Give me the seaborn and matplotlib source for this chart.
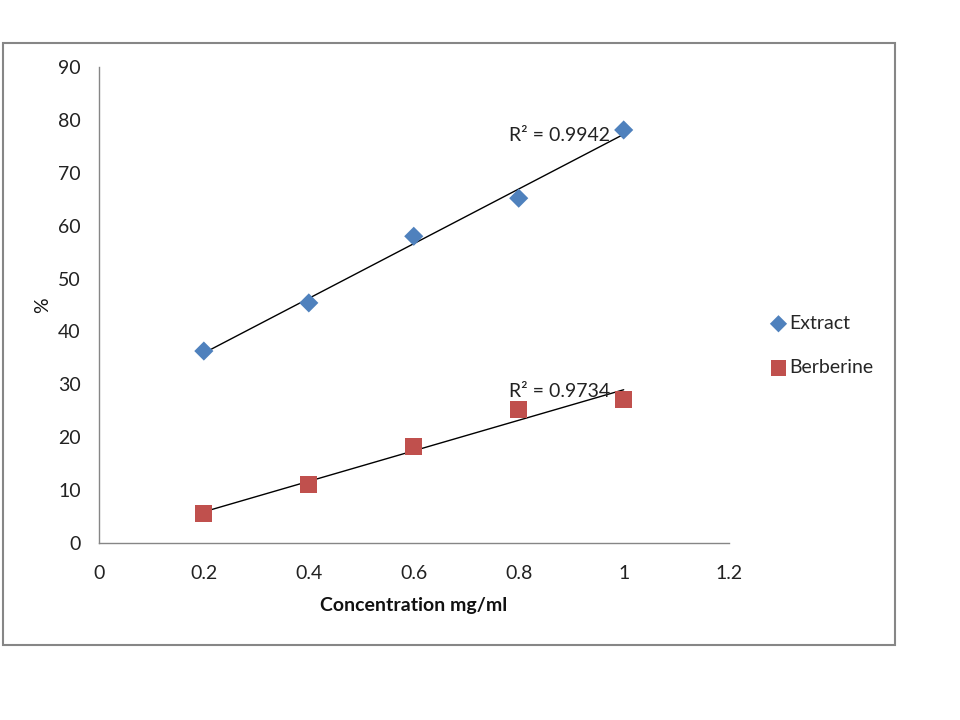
import matplotlib
matplotlib.use("Agg")
import matplotlib.pyplot as plt
import numpy as np
import pandas as pd
import seaborn as sns
from matplotlib.patches import Rectangle

# values
conc = [0.2, 0.4, 0.6, 0.8, 1.0]
extract = [36.3, 45.4, 58.0, 65.2, 78.1]
berberine = [5.5, 11.0, 18.2, 25.3, 27.2]
series_names = ['Extract', 'Berberine']
r2_labels = ['R\u00b2 = 0.9942', 'R\u00b2 = 0.9734']
x_ticks = [0, 0.2, 0.4, 0.6, 0.8, 1, 1.2]
x_tick_labels = ['0', '0.2', '0.4', '0.6', '0.8', '1', '1.2']
y_ticks = list(range(0, 100, 10))

df = pd.DataFrame({
    'conc': conc * 2,
    'value': extract + berberine,
    'series': [series_names[0]] * len(conc) + [series_names[1]] * len(conc),
})

sns.set_theme(style='white')
plt.rcParams['font.family'] = ['Lato', 'DejaVu Sans']

fig = plt.figure(figsize=(9.6, 7.2), dpi=100)
ax = fig.add_axes([0.103, 0.2458, 0.656, 0.6611])

colors = {'Extract': '#4F81BD', 'Berberine': '#C0504D'}
markers = {'Extract': 'D', 'Berberine': 's'}
sizes = {'Extract': 95, 'Berberine': 150}

for name in series_names:
    sub = df[df['series'] == name]
    sns.regplot(data=sub, x='conc', y='value', ax=ax, scatter=False, ci=None,
                truncate=True, line_kws={'color': 'black', 'lw': 1.0, 'zorder': 1})
    sns.scatterplot(data=sub, x='conc', y='value', ax=ax, color=colors[name],
                    marker=markers[name], s=sizes[name], edgecolor='none',
                    label=name, zorder=2)

# R^2 labels near the right end of each trendline
ax.text(0.781, 77.1, r2_labels[0], fontsize=14, ha='left', va='center', color='#222222')
ax.text(0.781, 28.6, r2_labels[1], fontsize=14, ha='left', va='center', color='#222222')

ax.set_xlim(0, 1.2)
ax.set_ylim(0, 90)
ax.set_xticks(x_ticks)
ax.set_xticklabels(x_tick_labels)
ax.set_yticks(y_ticks)
ax.tick_params(axis='both', length=0, labelsize=14, colors='#222222')
ax.tick_params(axis='y', pad=13)
ax.tick_params(axis='x', pad=16)

for side in ['top', 'right']:
    ax.spines[side].set_visible(False)
for side in ['left', 'bottom']:
    ax.spines[side].set_color('#868686')
    ax.spines[side].set_linewidth(1.0)

ax.set_xlabel('Concentration mg/ml', fontsize=14, fontweight='bold', color='#111111')
ax.set_ylabel('%', fontsize=14, color='#111111')
ax.xaxis.set_label_coords(0.5, -0.113)
ax.yaxis.set_label_coords(-0.076, 0.5)

leg = ax.legend(loc='center left', bbox_to_anchor=(1.039, 0.415), frameon=False,
                fontsize=14, handlelength=0.8, handletextpad=0.16,
                labelspacing=1.4, markerscale=0.9)

# outer chart border
fig.patches.append(Rectangle((0.003, 0.104), 0.929, 0.836, transform=fig.transFigure,
                             fill=False, edgecolor='#868686', lw=1.5))

fig.savefig('out.png', dpi=100)
